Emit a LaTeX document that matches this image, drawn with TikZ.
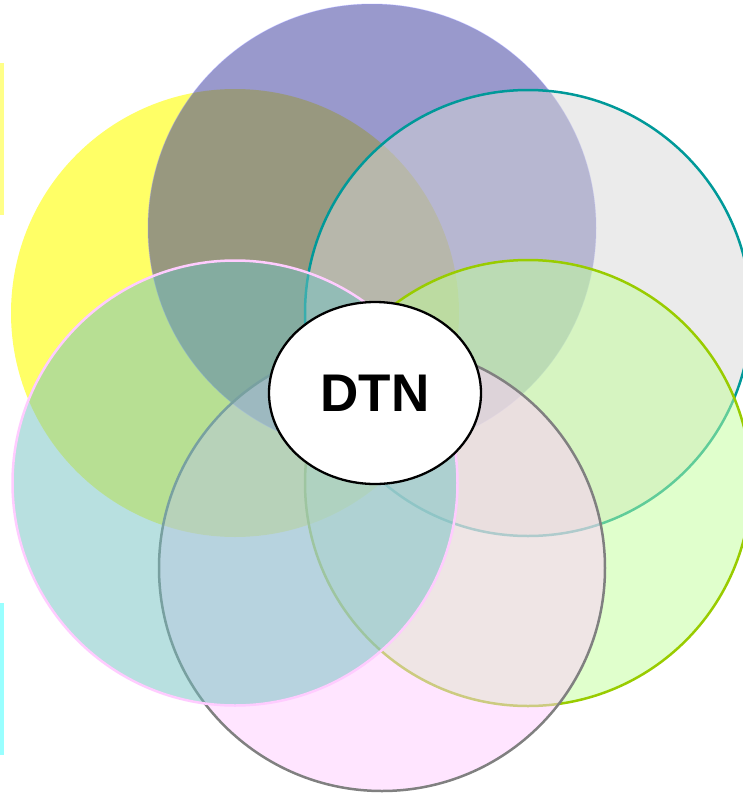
\documentclass[tikz,border=0pt]{standalone}
\usepackage{fontspec}
\setmainfont{Liberation Sans}[BoldFont={Liberation Sans Bold}]
\newfontfamily\dtnfont{Liberation Sans Bold}
\usetikzlibrary{shapes.geometric}
\definecolor{cYellow}{HTML}{FFFF66}
\definecolor{cBlue}{HTML}{333399}
\definecolor{cBlueEdge}{HTML}{9999FF}
\definecolor{cGrey}{HTML}{D7D7D7}
\definecolor{cTeal}{HTML}{009999}
\definecolor{cGreen}{HTML}{C1FF99}
\definecolor{cGreenEdge}{HTML}{99CC00}
\definecolor{cPink}{HTML}{FFCBFF}
\definecolor{cPinkEdge}{HTML}{808080}
\definecolor{cCyan}{HTML}{71C1C1}
\definecolor{cCyanEdge}{HTML}{FFCCFF}
\definecolor{cBarY}{HTML}{FFFF88}
\definecolor{cBarC}{HTML}{99FFFF}
\tikzset{
  ring/.style={circle, inner sep=0pt, outer sep=0pt, minimum size=#1},
  halffill/.style={fill opacity=0.5, draw opacity=1},
}
\begin{document}
\begin{tikzpicture}[x=1pt,y=-1pt]
\useasboundingbox (0,0) rectangle (743,793);
% left edge bars
\fill[cBarY] (0,63) rectangle (3.5,215);
\fill[cBarC] (0,603) rectangle (3.5,755);
% circles
\node[ring=448, fill=cYellow] (yellow) at (235,313) {};
\node[ring=448, fill=cBlue, fill opacity=0.5, draw=cBlueEdge, draw opacity=0.35, line width=1pt] (blue) at (372,228) {};
\node[ring=446, halffill, fill=cGrey, draw=cTeal, line width=2.5pt] (grey) at (528,313) {};
\node[ring=446, halffill, fill=cGreen, draw=cGreenEdge, line width=2.5pt] (green) at (528,483) {};
\node[ring=446, halffill, fill=cPink, draw=cPinkEdge, line width=2.5pt] (pink) at (382,568) {};
\node[ring=445, halffill, fill=cCyan, draw=cCyanEdge, line width=2.5pt] (cyan) at (235,483) {};
% centre
\node[ellipse, draw=black, fill=white, line width=2.3pt, minimum width=212, minimum height=182, inner sep=0pt,
      font=\dtnfont\fontsize{53}{60}\selectfont] (dtn) at (375,393) {DTN};
\end{tikzpicture}
\end{document}
